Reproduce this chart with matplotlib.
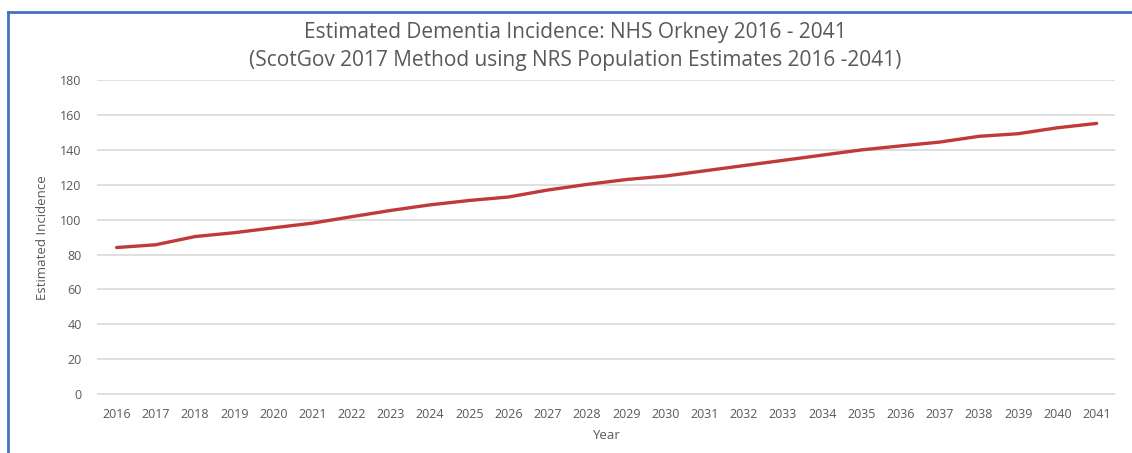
import matplotlib.pyplot as plt
from matplotlib.lines import Line2D

years = list(range(2016, 2042))
incidence = [84, 85.6, 90.3, 92.5, 95.3, 98, 101.7, 105.3, 108.5, 111, 113,
             117, 120.2, 123, 125, 128, 131, 134, 137, 140, 142.3, 144.5,
             147.8, 149.3, 152.7, 155.2]
y_ticks = list(range(0, 181, 20))

plt.rcParams['font.family'] = ['Open Sans', 'DejaVu Sans']
grey = '#595959'

fig = plt.figure(figsize=(11.32, 4.53), dpi=100)
ax = fig.add_axes([0.0857, 0.128, 0.8993, 0.695])

ax.plot(years, incidence, color='#C0393B', linewidth=2.4, solid_capstyle='round')

ax.set_xlim(2015.5, 2041.47)
ax.set_ylim(-0.6, 180)
ax.set_xticks(years)
ax.set_xticklabels([str(y) for y in years])
ax.set_yticks(y_ticks)
ax.grid(axis='y', color='#D9D9D9', linewidth=1.2)
ax.set_axisbelow(True)
for s in ax.spines.values():
    s.set_visible(False)
ax.tick_params(length=0, labelsize=9, colors=grey)
ax.tick_params(axis='y', pad=11)
ax.tick_params(axis='x', pad=9)

ax.set_xlabel('Year', fontsize=9.5, color=grey, labelpad=6)
ax.set_ylabel('Estimated Incidence', fontsize=9.5, color=grey, labelpad=8)

fig.text(0.508, 0.928, 'Estimated Dementia Incidence: NHS Orkney 2016 - 2041',
         ha='center', va='center', fontsize=15, color=grey)
fig.text(0.508, 0.866, '(ScotGov 2017 Method using NRS Population Estimates 2016 -2041)',
         ha='center', va='center', fontsize=15, color=grey)

# blue frame round the chart
blue = '#4472C4'
fig.add_artist(Line2D([7.5 / 1132, 1], [1 - 11.5 / 453] * 2, color=blue, linewidth=2,
                      transform=fig.transFigure))
fig.add_artist(Line2D([7.5 / 1132] * 2, [0, 1 - 11.5 / 453], color=blue, linewidth=2,
                      transform=fig.transFigure))

fig.savefig('out.png', dpi=100)
